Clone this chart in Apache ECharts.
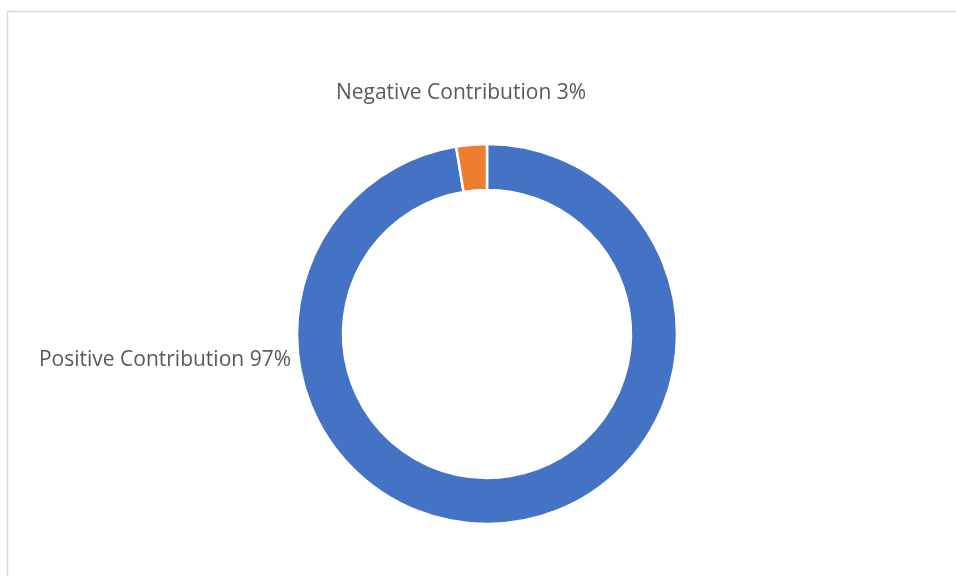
<!DOCTYPE html>
<html>
<head>
<meta charset="utf-8">
<script src="https://cdn.jsdelivr.net/npm/echarts@6/dist/echarts.min.js"></script>
<style>
  html, body { margin: 0; padding: 0; background: #fff; }
  #chart { width: 956px; height: 576px; }
</style>
</head>
<body>
<div id="chart"></div>
<script>
const categories = ['Positive Contribution', 'Negative Contribution'];
const values = [97.4, 2.6];
const colors = ['#4472C4', '#ED7D31'];

const chart = echarts.init(document.getElementById('chart'));

chart.setOption({
  animation: false,
  graphic: [{
    type: 'rect',
    shape: { x: 7.5, y: 11.5, width: 960, height: 580 },
    style: { fill: 'none', stroke: '#d9d9d9', lineWidth: 1.5 },
    silent: true
  }],
  series: [{
    type: 'pie',
    center: [487, 334],
    radius: [144, 190],
    startAngle: 90,
    clockwise: true,
    itemStyle: { borderColor: '#fff', borderWidth: 2.5 },
    label: {
      show: true,
      formatter: p => p.name + ' ' + Math.round(p.percent) + '%',
      fontFamily: 'Open Sans',
      fontSize: 21,
      color: '#595959'
    },
    labelLine: { show: false },
    // label spots as Excel placed them
    labelLayout: p => p.dataIndex === 0
      ? { x: 291, y: 360, align: 'right', verticalAlign: 'middle' }
      : { x: 461, y: 93, align: 'center', verticalAlign: 'middle' },
    data: categories.map((name, i) => ({
      name,
      value: values[i],
      itemStyle: { color: colors[i] }
    }))
  }]
});
</script>
</body>
</html>
